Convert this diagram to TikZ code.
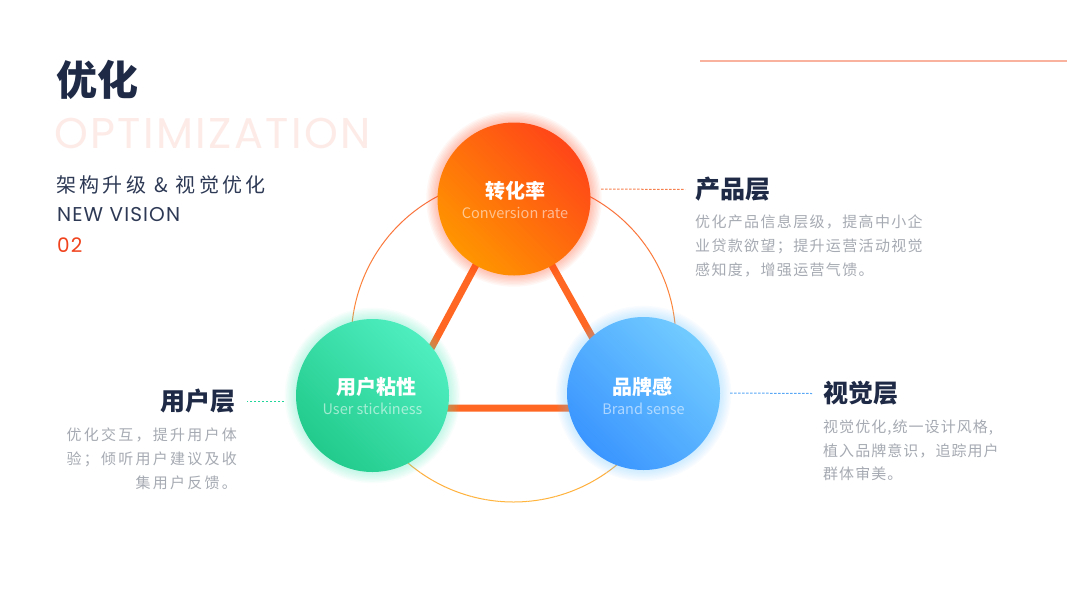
\documentclass[tikz,border=0pt]{standalone}
\usepackage{fontspec}
\setmainfont{Noto Sans CJK SC}
\newfontfamily\latinfont[LetterSpace=5.5]{Poppins}
\newfontfamily\subfont[LetterSpace=17]{Noto Sans CJK SC}
\newfontfamily\descprod[LetterSpace=9]{Noto Sans CJK SC}
\newfontfamily\descuser[LetterSpace=15]{Noto Sans CJK SC}
\newfontfamily\descvis[LetterSpace=7]{Noto Sans CJK SC}
\usetikzlibrary{positioning}

\definecolor{navy}{HTML}{1F2B46}
\definecolor{navysoft}{HTML}{2E3A55}
\definecolor{greytext}{HTML}{A6AAB2}
\definecolor{paleoptim}{HTML}{FDEBE8}
\definecolor{accent}{HTML}{F0431D}
\definecolor{topline}{HTML}{F9B29E}
\definecolor{edgeorange}{HTML}{FF6722}
\definecolor{ringtop}{HTML}{FA6A3C}
\definecolor{ringbot}{HTML}{FFB43C}
\definecolor{convlow}{HTML}{FF9500}
\definecolor{convhigh}{HTML}{FF4618}
\definecolor{userlow}{HTML}{22CB8C}
\definecolor{userhigh}{HTML}{4FEEC0}
\definecolor{brandlow}{HTML}{3A95FF}
\definecolor{brandhigh}{HTML}{72CBFF}
\definecolor{convlink}{HTML}{F7804F}
\definecolor{userlink}{HTML}{20D69A}
\definecolor{brandlink}{HTML}{5AA8F5}

\begin{document}
\begin{tikzpicture}[x=1pt, y=-1pt,
    ball/.style      = {circle, minimum size=153pt, inner sep=0pt},
    balltitle/.style = {text=white, font=\fontsize{20}{20}\selectfont\bfseries, inner sep=0pt},
    ballsub/.style   = {text=white, text opacity=0.55, font=\fontsize{14.5}{14.5}\selectfont, inner sep=0pt},
    layer/.style     = {text=navy, font=\fontsize{25}{25}\selectfont\bfseries, inner sep=0pt},
    desc/.style      = {text=greytext, inner sep=0pt, font=#1\fontsize{15}{23.8}\selectfont},
    link/.style      = {dash pattern=on 2.5pt off 1.5pt, line width=1pt},
    edge/.style      = {edgeorange, line width=7pt},
    glow/.style      = {opacity=0.045}
  ]
  % canvas
  \useasboundingbox (0,0) rectangle (1067,600);
  \fill[white] (0,0) rectangle (1067,600);

  % heading block
  \node[anchor=west, text=navy, font=\fontsize{41}{41}\selectfont\bfseries, inner sep=0pt] (title) at (56,80) {优化};
  \node[anchor=west, text=paleoptim, font=\latinfont\fontsize{43}{43}\selectfont, inner sep=0pt] (optim) at (54,133) {OPTIMIZATION};
  \node[anchor=west, text=navysoft, font=\subfont\fontsize{20}{20}\selectfont, inner sep=0pt] (subtitle) at (56,185) {架构升级 \& 视觉优化};
  \node[anchor=west, text=navysoft, font=\latinfont\fontsize{20}{20}\selectfont, inner sep=0pt] (vision) at (57,215) {NEW VISION};
  \node[anchor=west, text=accent, font=\latinfont\fontsize{20}{20}\selectfont, inner sep=0pt] (number) at (57,245) {02};

  \coordinate (rulefrom) at (700,61);
  \coordinate (ruleto) at (1067,61);
  \draw[topline, line width=1.5pt] (rulefrom) -- (ruleto);

  % centres
  \coordinate (ctop)   at (514,199);
  \coordinate (cleft)  at (372.5,395.5);
  \coordinate (cright) at (643.5,393.5);
  \coordinate (ringc)  at (513.5,339.75);

  % outer ring, shaded from top to bottom
  \foreach \a in {0,5,...,355}{
    \pgfmathsetmacro\mix{50+50*sin(\a+2.5)}
    \draw[ringbot!\mix!ringtop, line width=1pt] ([shift={(\a:162.25)}]ringc) arc[start angle=\a, end angle=\a+5, radius=162.25];
  }

  % triangle
  \coordinate (apex)     at (513,196);
  \coordinate (lowleft)  at (399,408);
  \coordinate (lowright) at (632,408);
  \draw[edge] (apex) -- (lowleft) -- (lowright) -- cycle;

  % glows
  \foreach \g in {1,...,8}{
    \fill[convhigh, glow]  (ctop)   circle[radius=76.5+1.4*\g];
    \fill[userhigh, glow]  (cleft)  circle[radius=76.5+1.4*\g];
    \fill[brandhigh, glow] (cright) circle[radius=76.5+1.4*\g];
  }

  % balls
  \node[ball, left color=convlow, right color=convhigh, shading angle=135]   (conv)  at (ctop)   {};
  \node[ball, left color=userlow, right color=userhigh, shading angle=135]   (user)  at (cleft)  {};
  \node[ball, left color=brandlow, right color=brandhigh, shading angle=135] (brand) at (cright) {};

  \node[balltitle] (convtitle)  at (515,191)   {转化率};
  \node[ballsub]   (convsub)    at (515,213)   {Conversion rate};
  \node[balltitle] (usertitle)  at (376.5,387) {用户粘性};
  \node[ballsub]   (usersub)    at (372.5,409) {User stickiness};
  \node[balltitle] (brandtitle) at (642.5,387) {品牌感};
  \node[ballsub]   (brandsub)   at (643.5,409) {Brand sense};

  % layers
  \node[layer, anchor=west] (prodlayer) at (695,189.5) {产品层};
  \node[layer, anchor=east] (userlayer) at (236,401)   {用户层};
  \node[layer, anchor=west] (vislayer)  at (823,393.5) {视觉层};

  \coordinate (prodfrom) at (601,189);
  \coordinate (userfrom) at (284,401);
  \coordinate (visfrom)  at (730,393);
  \draw[link, convlink]  (prodfrom) -- ([xshift=-10pt]prodlayer.west);
  \draw[link, userlink]  (userfrom) -- ([xshift=11pt]userlayer.east);
  \draw[link, brandlink] (visfrom)  -- ([xshift=-11pt]vislayer.west);

  % descriptions
  \node[desc=\descprod, anchor=north west, align=left] (proddesc) at (695,214.5)
    {优化产品信息层级，提高中小企\\业贷款欲望；提升运营活动视觉\\感知度，增强运营气馈。};
  \node[desc=\descuser, anchor=north east, align=right] (userdesc) at (237,427.5)
    {优化交互，提升用户体\\验；倾听用户建议及收\\集用户反馈。};
  \node[desc=\descvis, anchor=north west, align=left] (visdesc) at (823,419.5)
    {视觉优化,统一设计风格,\\植入品牌意识，追踪用户\\群体审美。};
\end{tikzpicture}
\end{document}
